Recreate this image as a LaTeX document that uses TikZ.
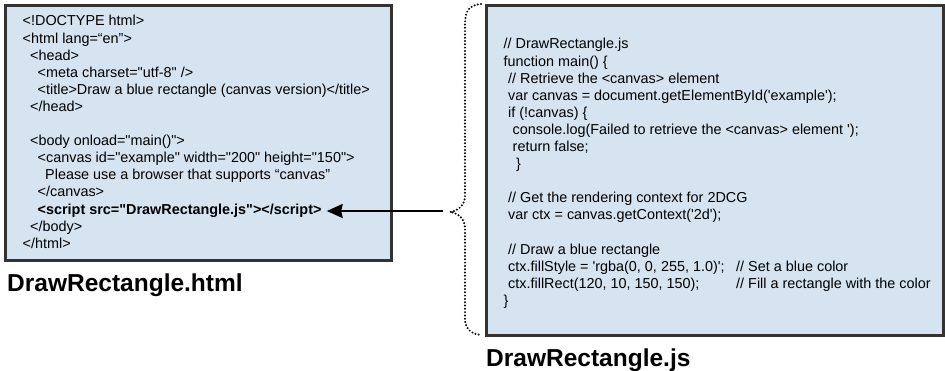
\documentclass[tikz,border=0pt]{standalone}
\usepackage{fontspec}
\setmainfont{Liberation Sans}[Ligatures=TeXOff]
\usepackage{xcolor}
\usetikzlibrary{arrows.meta}
\definecolor{boxfill}{RGB}{214,227,240}
\definecolor{boxline}{RGB}{51,51,51}
\tikzset{
    codebox/.style={draw=boxline, line width=3pt, fill=boxfill, inner sep=0pt, anchor=north west}, % the two file boxes
    code/.style={anchor=base west, inner sep=0pt, font=\fontsize{14.4}{17}\selectfont}, % one line of source text
    filename/.style={anchor=base west, inner sep=0pt, font=\fontsize{24.5}{28}\selectfont\bfseries}, % caption under a box
    brace/.style={line width=2.2pt, line cap=round, dash pattern=on 0pt off 3.3pt}, % the dotted curly bracket
}
\tikzstyle{arrow} = [line width=2pt, -{Stealth[length=16pt, width=14pt, inset=1.5pt]}]
\def\lh{17.1}

\begin{document}
\begin{tikzpicture}[x=1pt, y=-1pt]
    \useasboundingbox (0,0) rectangle (945,371);

    % the two files
    \node[codebox, minimum width=386pt, minimum height=255pt] (htmlbox) at (4,4) {};
    \node[codebox, minimum width=457pt, minimum height=330pt] (jsbox) at (485,4) {};

    % DrawRectangle.html
    \node[code] (h0) at (22.5, 26) {<!DOCTYPE html>};
    \node[code] (h1) at (22.5, 26+1*\lh) {<html lang=“en”>};
    \node[code] (h2) at (30, 26+2*\lh) {<head>};
    \node[code] (h3) at (37.5, 26+3*\lh) {<meta charset="utf-8" />};
    \node[code] (h4) at (37.5, 26+4*\lh) {<title>Draw a blue rectangle (canvas version)</title>};
    \node[code] (h5) at (30, 26+5*\lh) {</head>};
    \node[code] (h7) at (30, 26+7*\lh) {<body onload="main()">};
    \node[code] (h8) at (37.5, 26+8*\lh) {<canvas id="example" width="200" height="150">};
    \node[code] (h9) at (45, 26+9*\lh) {Please use a browser that supports “canvas”};
    \node[code] (h10) at (37.5, 26+10*\lh) {</canvas>};
    \node[code, font=\fontsize{14.4}{17}\selectfont\bfseries] (scripttag) at (37.5, 26+11*\lh) {<script src="DrawRectangle.js"></script>};
    \node[code] (h12) at (30, 26+12*\lh) {</body>};
    \node[code] (h13) at (22.5, 26+13*\lh) {</html>};

    % DrawRectangle.js
    \node[code] (j0) at (503.5, 49) {// DrawRectangle.js};
    \node[code] (j1) at (503.5, 49+1*\lh) {function main() \{};
    \node[code] (j2) at (508, 49+2*\lh) {// Retrieve the <canvas> element};
    \node[code] (j3) at (508, 49+3*\lh) {var canvas = document.getElementById('example');};
    \node[code] (j4) at (508, 49+4*\lh) {if (!canvas) \{};
    \node[code] (j5) at (512.5, 49+5*\lh) {console.log(Failed to retrieve the <canvas> element ');};
    \node[code] (j6) at (512.5, 49+6*\lh) {return false;};
    \node[code] (j7) at (516, 49+7*\lh) {\}};
    \node[code] (j9) at (508, 49+9*\lh) {// Get the rendering context for 2DCG};
    \node[code] (j10) at (508, 49+10*\lh) {var ctx = canvas.getContext('2d');};
    \node[code] (j12) at (508, 49+12*\lh) {// Draw a blue rectangle};
    \node[code] (j13) at (508, 49+13*\lh) {ctx.fillStyle = 'rgba(0, 0, 255, 1.0)';};
    \node[code] (j13c) at (736, 49+13*\lh) {// Set a blue color};
    \node[code] (j14) at (508, 49+14*\lh) {ctx.fillRect(120, 10, 150, 150);};
    \node[code] (j14c) at (736, 49+14*\lh) {// Fill a rectangle with the color};
    \node[code] (j15) at (503.5, 49+15*\lh) {\}};

    % captions
    \node[filename] (htmlname) at (7, 292) {DrawRectangle.html};
    \node[filename] (jsname) at (486, 366) {DrawRectangle.js};

    % bracket round the script and the arrow into the html
    \draw[brace] (481,4) .. controls (470,5) and (465,10) .. (465,24) -- (465,196)
        .. controls (465,205) and (458,211) .. (450,212)
        .. controls (458,213) and (465,219) .. (465,228) -- (465,318)
        .. controls (465,328) and (470,334) .. (481,335);
    \coordinate (bracetip) at (443,211);
    \draw[arrow, shorten >=5pt] (bracetip) -- (bracetip -| scripttag.east);
\end{tikzpicture}
\end{document}
